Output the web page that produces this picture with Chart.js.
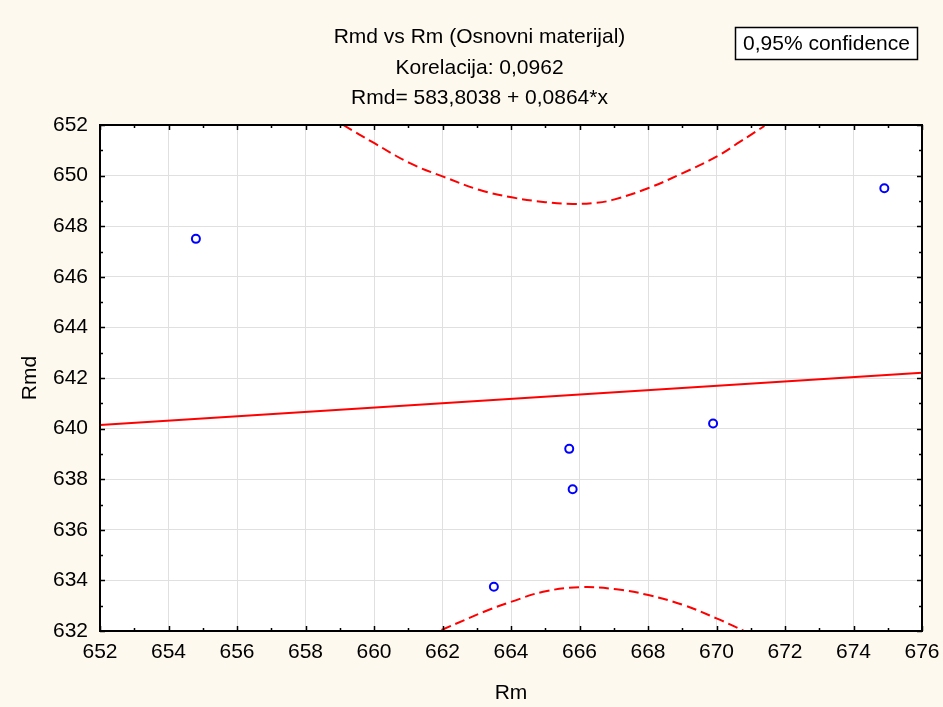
<!DOCTYPE html>
<html>
<head>
<meta charset="utf-8">
<script src="https://cdn.jsdelivr.net/npm/chart.js@4.4.0/dist/chart.umd.min.js"></script>
<style>
  html, body { margin: 0; padding: 0; background: #fdf9ee; }
  canvas { display: block; }
</style>
</head>
<body>
<canvas id="c" width="943" height="707"></canvas>
<script>
// ---- Data ----
const titleLines = ['Rmd vs Rm (Osnovni materijal)', 'Korelacija: 0,0962', 'Rmd= 583,8038 + 0,0864*x'];
const legendLabel = '0,95% confidence';
const xAxisTitle = 'Rm';
const yAxisTitle = 'Rmd';

const rmValues  = [654.8, 674.9, 669.9, 665.7, 665.8, 663.5];
const rmdValues = [647.5, 649.5, 640.2, 639.2, 637.6, 633.75];

const fitX = [652, 676];
const fitY = [640.14, 642.21];

const upperX = [659.1, 660.0, 661.05, 662.02, 663.09, 664.02, 665.0, 665.8, 666.5, 667.0, 668.0, 669.0, 670.0, 670.69, 671.4];
const upperY = [652.0, 651.29, 650.49, 649.96, 649.43, 649.14, 648.95, 648.88, 648.93, 649.05, 649.5, 650.09, 650.75, 651.34, 651.96];

const lowerX = [661.97, 663.34, 664.02, 664.94, 666.01, 667.08, 668.01, 669.03, 670.0, 670.49, 670.8];
const lowerY = [632.04, 632.83, 633.16, 633.55, 633.73, 633.65, 633.42, 633.03, 632.5, 632.2, 632.0];

const xMin = 652, xMax = 676, xStep = 2;
const yMin = 632, yMax = 652, yStep = 2;

// ---- Helpers ----
const zip = (xs, ys) => xs.map((x, i) => ({ x: x, y: ys[i] }));
const FONT = 'Liberation Sans, Arial, Helvetica, sans-serif';
const FS = 21;
const CREAM = '#fdf9ee';

const bgPlugin = {
  id: 'bg',
  beforeDraw(chart) {
    const { ctx, chartArea: a } = chart;
    ctx.save();
    ctx.fillStyle = CREAM;
    ctx.fillRect(0, 0, chart.width, chart.height);
    ctx.fillStyle = '#ffffff';
    ctx.fillRect(a.left, a.top, a.right - a.left, a.bottom - a.top);
    ctx.restore();
  }
};

const framePlugin = {
  id: 'frame',
  afterDraw(chart) {
    const { ctx, chartArea: a, scales } = chart;
    const xs = scales.x, ys = scales.y;
    ctx.save();
    ctx.strokeStyle = '#000';
    ctx.lineWidth = 1.5;
    ctx.beginPath();
    for (let v = xMin; v <= xMax; v += 1) {
      const p = Math.round(xs.getPixelForValue(v)) + 0.5;
      const len = (v - xMin) % xStep === 0 ? 5 : 3;
      ctx.moveTo(p, a.bottom); ctx.lineTo(p, a.bottom - len);
      ctx.moveTo(p, a.top); ctx.lineTo(p, a.top + len);
    }
    for (let v = yMin; v <= yMax; v += 1) {
      const p = Math.round(ys.getPixelForValue(v)) + 0.5;
      const len = (v - yMin) % yStep === 0 ? 5 : 3;
      ctx.moveTo(a.left, p); ctx.lineTo(a.left + len, p);
      ctx.moveTo(a.right, p); ctx.lineTo(a.right - len, p);
    }
    ctx.stroke();
    ctx.lineWidth = 2;
    ctx.strokeRect(a.left, a.top, a.right - a.left, a.bottom - a.top);

    // legend box
    ctx.font = FS + 'px ' + FONT;
    ctx.fillStyle = '#ffffff';
    ctx.fillRect(735, 27, 183, 33);
    ctx.lineWidth = 1.5;
    ctx.strokeStyle = '#000';
    ctx.strokeRect(735.5, 27.5, 182, 32);
    ctx.fillStyle = '#000';
    ctx.textAlign = 'center';
    ctx.textBaseline = 'middle';
    ctx.fillText(legendLabel, 826.5, 44);
    ctx.restore();
  }
};

const bandStyle = {
  showLine: true,
  borderColor: '#ff0000',
  borderWidth: 2,
  borderDash: [10, 5],
  pointRadius: 0,
  tension: 0.4,
  fill: false
};

new Chart(document.getElementById('c'), {
  type: 'scatter',
  data: {
    datasets: [
      Object.assign({ label: 'upper', data: zip(upperX, upperY) }, bandStyle),
      Object.assign({ label: 'lower', data: zip(lowerX, lowerY) }, bandStyle),
      {
        label: 'fit',
        data: zip(fitX, fitY),
        showLine: true,
        borderColor: '#ff0000',
        borderWidth: 2,
        pointRadius: 0,
        fill: false
      },
      {
        label: 'Rmd',
        data: zip(rmValues, rmdValues),
        pointStyle: 'circle',
        pointRadius: 4,
        borderWidth: 2,
        borderColor: '#0000ff',
        backgroundColor: 'rgba(0,0,0,0)'
      }
    ]
  },
  options: {
    responsive: false,
    animation: false,
    layout: { padding: { left: 16, right: 0, top: 0, bottom: 0 } },
    plugins: {
      legend: { display: false },
      tooltip: { enabled: false },
      title: {
        display: true,
        text: titleLines,
        color: '#000',
        font: { family: FONT, size: FS, weight: 'normal', lineHeight: 30.5 / FS },
        padding: { top: 22, bottom: 11.5 }
      }
    },
    scales: {
      x: {
        type: 'linear',
        min: xMin, max: xMax,
        ticks: { stepSize: xStep, color: '#000', padding: 9, font: { family: FONT, size: FS }, maxRotation: 0 },
        grid: { color: '#e0e0e0', lineWidth: 1, drawTicks: false },
        border: { display: true, color: '#000', width: 2 },
        title: { display: true, text: xAxisTitle, color: '#000', font: { family: FONT, size: FS }, padding: { top: 0, bottom: 1.4 } },
        afterFit(scale) { scale.height = 76; scale.paddingRight = 21; }
      },
      y: {
        type: 'linear',
        min: yMin, max: yMax,
        ticks: { stepSize: yStep, color: '#000', padding: 12, font: { family: FONT, size: FS } },
        grid: { color: '#e0e0e0', lineWidth: 1, drawTicks: false },
        border: { display: true, color: '#000', width: 2 },
        title: { display: true, text: yAxisTitle, color: '#000', font: { family: FONT, size: FS }, padding: { top: 1.4, bottom: 0 } },
        afterFit(scale) { scale.width = 84; }
      }
    }
  },
  plugins: [bgPlugin, framePlugin]
});
</script>
</body>
</html>
